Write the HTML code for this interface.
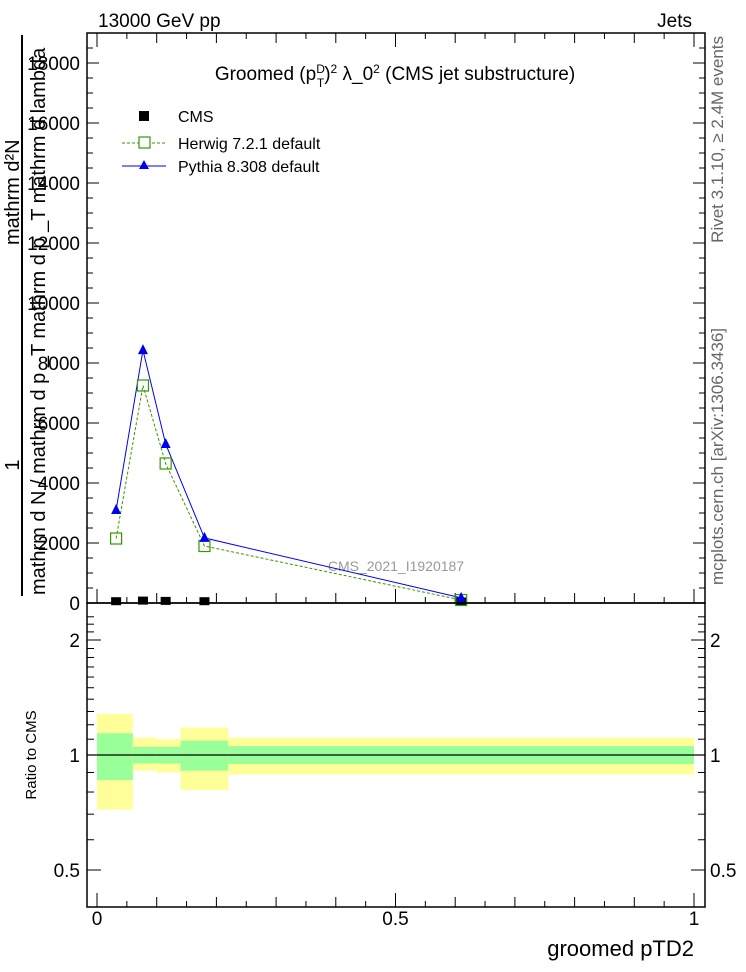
<!DOCTYPE html>
<html><head><meta charset="utf-8"><style>
body{margin:0;background:#fff}
svg{display:block;font-family:"Liberation Sans",sans-serif}
</style></head><body>
<svg id="c" width="746" height="972" viewBox="0 0 746 972">
<text x="98" y="27" font-size="19">13000 GeV pp</text>
<text x="692" y="27" font-size="19" text-anchor="end">Jets</text>
<text transform="translate(723,36) rotate(-90)" font-size="17" fill="#666" text-anchor="end">Rivet 3.1.10, ≥ 2.4M events</text>
<text transform="translate(723,328) rotate(-90)" font-size="17" fill="#666" text-anchor="end">mcplots.cern.ch [arXiv:1306.3436]</text>
<g font-size="20">
<text transform="translate(19,465) rotate(-90)" text-anchor="middle">1</text>
<line x1="22" y1="35" x2="22" y2="596" stroke="#000" stroke-width="2"/>
<text transform="translate(19,245) rotate(-90)" text-anchor="start">mathrm d²N</text>
<text transform="translate(45,595) rotate(-90)" text-anchor="start">mathrm d N / mathrm d p _T mathrm d p _T mathrm d lambda</text>
</g>
<text x="395" y="80" font-size="19" text-anchor="middle">Groomed  (p<tspan font-size="12" dy="-7">D</tspan><tspan font-size="12" dx="-8" dy="14">T</tspan><tspan dy="-7">)</tspan><tspan font-size="12" dy="-7">2</tspan><tspan dy="7"> λ_0</tspan><tspan font-size="12" dy="-7">2</tspan><tspan dy="7"> (CMS jet substructure)</tspan></text>
<text x="396" y="571" font-size="14" fill="#999" text-anchor="middle">CMS_2021_I1920187</text>
<g id="legend" font-size="16">
<rect x="139" y="111" width="10" height="10" fill="#000"/>
<text x="178" y="122">CMS</text>
<line x1="122" y1="143" x2="166" y2="143" stroke="#339900" stroke-dasharray="3,2"/>
<rect x="139" y="137" width="11" height="11" fill="#fff" stroke="#339900" stroke-width="1.2"/>
<text x="178" y="149">Herwig 7.2.1 default</text>
<line x1="122" y1="166" x2="166" y2="166" stroke="#0000ee"/>
<polygon points="144,160 139,169 149,169" fill="#0000ee"/>
<text x="178" y="172">Pythia 8.308 default</text>
</g>
<g id="main"></g>
<g id="ratio"></g>
<text x="694" y="956" font-size="22" text-anchor="end">groomed pTD2</text>
<text transform="translate(36,755) rotate(-90)" font-size="15" text-anchor="middle">Ratio to CMS</text>
</svg>
<script>
const binEdges=[0,0.06,0.1,0.14,0.22,1.0];
const xCenters=[0.032,0.077,0.115,0.18,0.61];
const cmsValues=[60,80,70,60,50];
const herwigValues=[2150,7250,4650,1900,100];
const pythiaValues=[3100,8430,5300,2170,170];
const yTicks=[0,2000,4000,6000,8000,10000,12000,14000,16000,18000];
const xTickLabels=["0","0.5","1"];
const xTickValues=[0,0.5,1];
const ratioBandEdges=[0,0.06,0.1,0.14,0.22,1.0];
const ratioYellowHi=[1.28,1.11,1.10,1.18,1.11];
const ratioYellowLo=[0.72,0.91,0.90,0.81,0.89];
const ratioGreenHi=[1.14,1.05,1.05,1.09,1.055];
const ratioGreenLo=[0.86,0.95,0.95,0.91,0.947];
const ratioTicks=[0.5,1,2];

const NS="http://www.w3.org/2000/svg";
const L=87,R=705,T=33,B=603,RB=907;
const X=v=>97+v*597;
const Y=v=>603-v*0.03;
const RY=v=>755-Math.log2(v)*115;
function mk(p,tag,a){const e=document.createElementNS(NS,tag);for(const k in a)e.setAttribute(k,a[k]);p.appendChild(e);return e;}
const main=document.getElementById('main');
const ratio=document.getElementById('ratio');

for(let i=0;i<ratioYellowHi.length;i++){
 const x0=X(ratioBandEdges[i]),x1=Math.min(X(ratioBandEdges[i+1]),R);
 const y=mk(ratio,'rect',{x:x0,y:RY(ratioYellowHi[i]),width:x1-x0,height:RY(ratioYellowLo[i])-RY(ratioYellowHi[i]),fill:'#ffff99'});
 
 
 const g=mk(ratio,'rect',{x:x0,y:RY(ratioGreenHi[i]),width:x1-x0,height:RY(ratioGreenLo[i])-RY(ratioGreenHi[i]),fill:'#99ff99'});
 
 
}
mk(ratio,'line',{x1:L,y1:RY(1),x2:R,y2:RY(1),stroke:'#000','stroke-width':1.2});

mk(main,'rect',{x:L,y:T,width:R-L,height:B-T,fill:'none',stroke:'#000','stroke-width':1.5});
mk(ratio,'rect',{x:L,y:B,width:R-L,height:RB-B,fill:'none',stroke:'#000','stroke-width':1.5});

for(let v=0;v<=18500;v+=500){const y=Y(v);const len=v%2000==0?12:6;
 mk(main,'line',{x1:L,y1:y,x2:L+len,y2:y,stroke:'#000'});mk(main,'line',{x1:R,y1:y,x2:R-len,y2:y,stroke:'#000'});}
yTicks.forEach(v=>{const t=mk(main,'text',{x:80,y:Y(v)+7,'font-size':19,'text-anchor':'end'});t.textContent=String(v);
 
 });
for(let i=0;i<=20;i++){const v=i*0.05,x=X(v);const len=i%10==0?14:(i%2==0?10:6);
 [[B,-1],[T,1],[RB,-1]].forEach(([yy,d])=>mk(main,'line',{x1:x,y1:yy,x2:x,y2:yy+d*len,stroke:'#000'}));}
xTickValues.forEach((v,i)=>{const t=mk(ratio,'text',{x:X(v),y:925,'font-size':19,'text-anchor':'middle'});t.textContent=xTickLabels[i];
 
 });
for(let v=0.4;v<=2.4;v+=0.1){const y=RY(v);if(y<B||y>RB)continue;const major=[0.5,1,2].some(m=>Math.abs(m-v)<1e-6);const len=major?14:7;
 mk(ratio,'line',{x1:L,y1:y,x2:L+len,y2:y,stroke:'#000'});mk(ratio,'line',{x1:R,y1:y,x2:R-len,y2:y,stroke:'#000'});}
ratioTicks.forEach(v=>{const a=mk(ratio,'text',{x:80,y:RY(v)+7,'font-size':19,'text-anchor':'end'});a.textContent=String(v);
 
 
 const b=mk(ratio,'text',{x:710,y:RY(v)+7,'font-size':19});b.textContent=String(v);
 
 });

const hp=xCenters.map((x,i)=>X(x)+','+Y(herwigValues[i])).join(' ');
const hl=mk(main,'polyline',{points:hp,fill:'none',stroke:'#339900','stroke-dasharray':'3,2','stroke-width':1});


const pp=xCenters.map((x,i)=>X(x)+','+Y(pythiaValues[i])).join(' ');
const pl=mk(main,'polyline',{points:pp,fill:'none',stroke:'#0000ee','stroke-width':1});


xCenters.forEach((x,i)=>{
 const c=mk(main,'rect',{x:X(x)-5,y:Y(cmsValues[i])-4,width:10,height:8,fill:'#000'});
 
 
 const h=mk(main,'rect',{x:X(x)-5.5,y:Y(herwigValues[i])-5.5,width:11,height:11,fill:'none',stroke:'#339900','stroke-width':1.2});
 
 
 const px=X(x),py=Y(pythiaValues[i]);
 const p=mk(main,'polygon',{points:`${px},${py-6} ${px-5},${py+4} ${px+5},${py+4}`,fill:'#0000ee'});
 
 
});
</script>
</body></html>
